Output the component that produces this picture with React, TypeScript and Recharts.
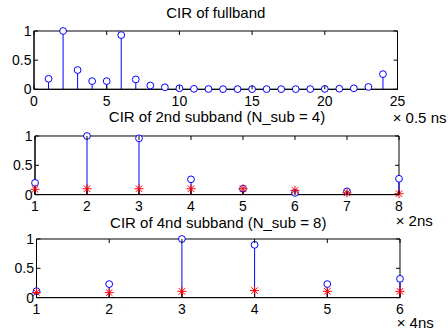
import React from 'react';
import { ComposedChart, Scatter, XAxis, YAxis, ReferenceLine, ReferenceArea } from 'recharts';

// ---------- data ----------
const fullbandX = [1, 2, 3, 4, 5, 6, 7, 8, 9, 10, 11, 12, 13, 14, 15, 16, 17, 18, 19, 20, 21, 22, 23, 24];
const fullbandCir = [0.18, 1.0, 0.33, 0.14, 0.14, 0.93, 0.17, 0.065, 0.034, 0.018, 0.008, 0.005, 0.003, 0.003, 0.003, 0.003, 0.003, 0.003, 0.004, 0.006, 0.01, 0.017, 0.04, 0.26];
const fullbandXTicks = [0, 5, 10, 15, 20, 25];

const sub2X = [1, 2, 3, 4, 5, 6, 7, 8];
const sub2Cir = [0.2, 1.0, 0.96, 0.26, 0.1, 0.03, 0.055, 0.27];
const sub2Est = [0.09, 0.1, 0.1, 0.1, 0.1, 0.073, 0.03, 0.015];
const sub2XTicks = [1, 2, 3, 4, 5, 6, 7, 8];

const sub4X = [1, 2, 3, 4, 5, 6];
const sub4Cir = [0.11, 0.23, 1.0, 0.9, 0.23, 0.32];
const sub4Est = [0.085, 0.085, 0.107, 0.12, 0.107, 0.107];
const sub4XTicks = [1, 2, 3, 4, 5, 6];

const yTicks = [0, 0.5, 1];

const titles = ['CIR of fullband', 'CIR of 2nd subband (N_sub = 4)', 'CIR of 4nd subband (N_sub = 8)'];
const unitLabels = ['× 0.5 ns', '× 2ns', '× 4ns'];

// ---------- styling ----------
const FONT = '"Liberation Sans", Arial, Helvetica, sans-serif';
const TICK_LEN = 4;
const BLUE = '#0000ff';
const RED = '#ff0000';

const BottomTick = (props: any) => {
  const { x, y, payload, plotHeight } = props;
  return (
    <g>
      <line x1={x} y1={y} x2={x} y2={y - TICK_LEN} stroke="#000" strokeWidth={1} />
      <line x1={x} y1={y - plotHeight} x2={x} y2={y - plotHeight + TICK_LEN} stroke="#000" strokeWidth={1} />
      <text x={x} y={y + 16.8} textAnchor="middle" fontSize={14} fontFamily={FONT} fill="#000">
        {payload.value}
      </text>
    </g>
  );
};

const LeftTick = (props: any) => {
  const { x, y, payload, plotWidth } = props;
  return (
    <g>
      <line x1={x} y1={y} x2={x + TICK_LEN} y2={y} stroke="#000" strokeWidth={1} />
      <line x1={x + plotWidth} y1={y} x2={x + plotWidth - TICK_LEN} y2={y} stroke="#000" strokeWidth={1} />
      <text x={x - 2.5} y={y + 5} textAnchor="end" fontSize={14} fontFamily={FONT} fill="#000">
        {payload.value}
      </text>
    </g>
  );
};

const Circle = (props: any) => {
  const { cx, cy } = props;
  if (cx == null || cy == null) return null;
  return <circle cx={cx} cy={cy} r={3.4} fill="#fff" stroke={BLUE} strokeWidth={1} />;
};

const Star = (props: any) => {
  const { cx, cy } = props;
  if (cx == null || cy == null) return null;
  const r = 4.5;
  const d = r * 0.72;
  return (
    <g stroke={RED} strokeWidth={1}>
      <line x1={cx - r} y1={cy} x2={cx + r} y2={cy} />
      <line x1={cx} y1={cy - r} x2={cx} y2={cy + r} />
      <line x1={cx - d} y1={cy - d} x2={cx + d} y2={cy + d} />
      <line x1={cx - d} y1={cy + d} x2={cx + d} y2={cy - d} />
    </g>
  );
};

type PanelProps = {
  plotLeft: number;
  plotRight: number;
  plotTop: number;
  plotBottom: number;
  xDomain: [number, number];
  xTicks: number[];
  xs: number[];
  cir: number[];
  est?: number[];
};

const Panel = ({ plotLeft, plotRight, plotTop, plotBottom, xDomain, xTicks, xs, cir, est }: PanelProps) => {
  const wrapTop = plotTop - 10;
  const height = plotBottom - wrapTop + 30;
  const cirData = xs.map((x, i) => ({ x, y: cir[i] }));
  const estData = est ? xs.map((x, i) => ({ x, y: est[i] })) : [];
  const plotWidth = plotRight - plotLeft;
  const plotHeight = plotBottom - plotTop;
  return (
    <div style={{ position: 'absolute', left: 0, top: wrapTop, width: 448, height }}>
      <ComposedChart
        width={448}
        height={height}
        margin={{ top: 10, right: 448 - plotRight, bottom: 0, left: 0 }}
        style={{ overflow: 'visible' }}
      >
        <XAxis
          dataKey="x"
          type="number"
          domain={xDomain}
          ticks={xTicks}
          height={30}
          tickSize={0}
          tickMargin={0}
          tickLine={false}
          axisLine={{ stroke: '#000', strokeWidth: 1 }}
          tick={<BottomTick plotHeight={plotHeight} />}
          interval={0}
        />
        <YAxis
          dataKey="y"
          type="number"
          domain={[0, 1]}
          ticks={yTicks}
          width={plotLeft}
          tickSize={0}
          tickMargin={0}
          tickLine={false}
          axisLine={{ stroke: '#000', strokeWidth: 1 }}
          tick={<LeftTick plotWidth={plotWidth} />}
          interval={0}
        />
        <ReferenceArea
          x1={xDomain[0]}
          x2={xDomain[1]}
          y1={0}
          y2={1}
          fill="none"
          fillOpacity={0}
          stroke="#000"
          strokeWidth={1}
          strokeOpacity={1}
          ifOverflow="visible"
        />
        {cirData.map((p) => (
          <ReferenceLine
            key={'c' + p.x}
            segment={[{ x: p.x, y: 0 }, { x: p.x, y: p.y }]}
            stroke={BLUE}
            strokeWidth={1}
            ifOverflow="visible"
          />
        ))}
        {estData.map((p) => (
          <ReferenceLine
            key={'e' + p.x}
            segment={[{ x: p.x, y: 0 }, { x: p.x, y: p.y }]}
            stroke={RED}
            strokeWidth={1}
            ifOverflow="visible"
          />
        ))}
        <Scatter data={cirData} shape={<Circle />} isAnimationActive={false} />
        {est ? <Scatter data={estData} shape={<Star />} isAnimationActive={false} /> : null}
      </ComposedChart>
    </div>
  );
};

const TextAt = ({ text, left, width, top, align, size, lineHeight }: any) => (
  <div
    style={{
      position: 'absolute',
      left,
      width,
      top,
      fontSize: size,
      lineHeight: `${lineHeight}px`,
      fontFamily: FONT,
      color: '#000',
      textAlign: align,
      whiteSpace: 'nowrap',
    }}
  >
    {text}
  </div>
);

// title cap-centre y positions: top = centre - 0.49*15 with lineHeight 15
// unit labels use lineHeight 10: cap centre = top + 4.83
export default function App() {
  return (
    <div style={{ position: 'absolute', left: 0, top: 0, width: 448, height: 331, background: '#fff', overflow: 'hidden' }}>
      <Panel
        plotLeft={34}
        plotRight={397.5}
        plotTop={30.7}
        plotBottom={89}
        xDomain={[0, 25]}
        xTicks={fullbandXTicks}
        xs={fullbandX}
        cir={fullbandCir}
      />
      <Panel
        plotLeft={35}
        plotRight={399}
        plotTop={135.7}
        plotBottom={194.3}
        xDomain={[1, 8]}
        xTicks={sub2XTicks}
        xs={sub2X}
        cir={sub2Cir}
        est={sub2Est}
      />
      <Panel
        plotLeft={36.5}
        plotRight={400}
        plotTop={238.7}
        plotBottom={297.3}
        xDomain={[1, 6]}
        xTicks={sub4XTicks}
        xs={sub4X}
        cir={sub4Cir}
        est={sub4Est}
      />
      <TextAt text={titles[0]} left={34} width={363.5} top={5} align="center" size={15} lineHeight={15} />
      <TextAt text={titles[1]} left={35} width={364} top={109.4} align="center" size={15} lineHeight={15} />
      <TextAt text={titles[2]} left={36.5} width={363.5} top={215.4} align="center" size={15} lineHeight={15} />
      <TextAt text={unitLabels[0]} left={392.7} width={60} top={112.7} align="left" size={15} lineHeight={10} />
      <TextAt text={unitLabels[1]} left={395.7} width={60} top={215.5} align="left" size={15} lineHeight={10} />
      <TextAt text={unitLabels[2]} left={396.7} width={60} top={317.7} align="left" size={15} lineHeight={10} />
    </div>
  );
}
